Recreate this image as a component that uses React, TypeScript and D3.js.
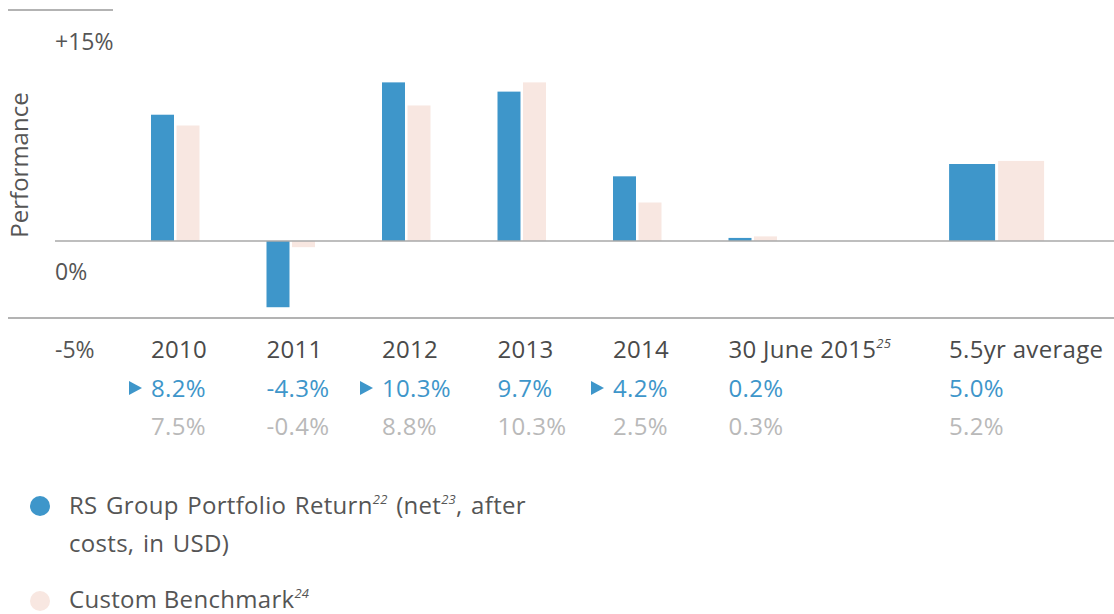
import * as d3 from "d3";

const categories = ["2010", "2011", "2012", "2013", "2014", "30 June 2015", "5.5yr average"];
const portfolio = [8.2, -4.3, 10.3, 9.7, 4.2, 0.2, 5.0];
const benchmark = [7.5, -0.4, 8.8, 10.3, 2.5, 0.3, 5.2];
const arrows = [true, false, true, false, true, false, false];
const yTicks = ["+15%", "0%", "-5%"];

const BLUE = "#3e96ca";
const PINK = "#f8e7e1";
const FONT = "'Open Sans', sans-serif";
const FS = 24;

export default function App() {
  const width = 1114;
  const height = 614;
  const y = d3.scaleLinear().domain([-5, 15]).range([318, 10]);
  // slot positions: the average sits a little further out
  const slot = d3.scaleLinear().domain([0, 1]).range([151, 266.5]);
  const slotIndex = [0, 1, 2, 3, 4, 5, 6.91];
  const barW = (i: number) => (i === 6 ? 46 : 23);
  const gap = (i: number) => (i === 6 ? 3 : 2.5);

  return (
    <svg
      width={width}
      height={height}
      style={{ position: "absolute", left: 0, top: 0, background: "#fff" }}
      fontFamily={FONT}
    >
      <line x1={8} x2={113} y1={y(15)} y2={y(15)} stroke="#9a9a9a" strokeWidth={1.5} />
      <line x1={8} x2={width} y1={y(-5)} y2={y(-5)} stroke="#9a9a9a" strokeWidth={1.5} />

      {categories.map((c, i) => {
        const x0 = slot(slotIndex[i]);
        const w = barW(i);
        const p = portfolio[i];
        const b = benchmark[i];
        return (
          <g key={c}>
            <rect x={x0} width={w} y={y(Math.max(0, p))} height={Math.abs(y(p) - y(0))} fill={BLUE} />
            <rect
              x={x0 + w + gap(i)}
              width={w}
              y={y(Math.max(0, b))}
              height={Math.abs(y(b) - y(0))}
              fill={PINK}
            />
          </g>
        );
      })}

      <line x1={55} x2={width} y1={y(0)} y2={y(0)} stroke="#a8a8a8" strokeWidth={1.5} />

      <g fontSize={23} fill="#555">
        <text x={55} y={50}>{yTicks[0]}</text>
        <text x={55} y={280}>{yTicks[1]}</text>
        <text x={55} y={358}>{yTicks[2]}</text>
      </g>
      <text
        transform={`translate(28,165) rotate(-90)`}
        textAnchor="middle"
        fontSize={24}
        fill="#555"
      >
        Performance
      </text>

      <g letterSpacing={0.3} fontSize={FS}>
        {categories.map((c, i) => {
          const x0 = slot(slotIndex[i]);
          const isJune = c.startsWith("30 June");
          return (
            <g key={"l" + c}>
              <text x={x0} y={358} fill="#4a4a4a">
                {c}
                {isJune && (
                  <tspan dy={-10} fontSize={13} fontStyle="italic">25</tspan>
                )}
              </text>
              {arrows[i] && (
                <path
                  d={`M${x0 - 22},${381} L${x0 - 9},${388} L${x0 - 22},${395} Z`}
                  fill={BLUE}
                />
              )}
              <text x={x0} y={397} fill={BLUE}>
                {portfolio[i].toFixed(1) + "%"}
              </text>
              <text x={x0} y={435} fill="#b9b9b9">
                {benchmark[i].toFixed(1) + "%"}
              </text>
            </g>
          );
        })}

        <circle cx={40} cy={506} r={10} fill={BLUE} />
        <text x={69} y={514} fill="#555" wordSpacing={2}>
          RS Group Portfolio Return
          <tspan dy={-10} fontSize={13} fontStyle="italic">22</tspan>
          <tspan dy={10}> (net</tspan>
          <tspan dy={-10} fontSize={13} fontStyle="italic">23</tspan>
          <tspan dy={10}>, after</tspan>
        </text>
        <text x={69} y={552} fill="#555" wordSpacing={2}>costs, in USD)</text>

        <circle cx={40} cy={601} r={10} fill={PINK} />
        <text x={69} y={608} fill="#555">
          Custom Benchmark
          <tspan dy={-10} fontSize={13} fontStyle="italic">24</tspan>
        </text>
      </g>
    </svg>
  );
}
